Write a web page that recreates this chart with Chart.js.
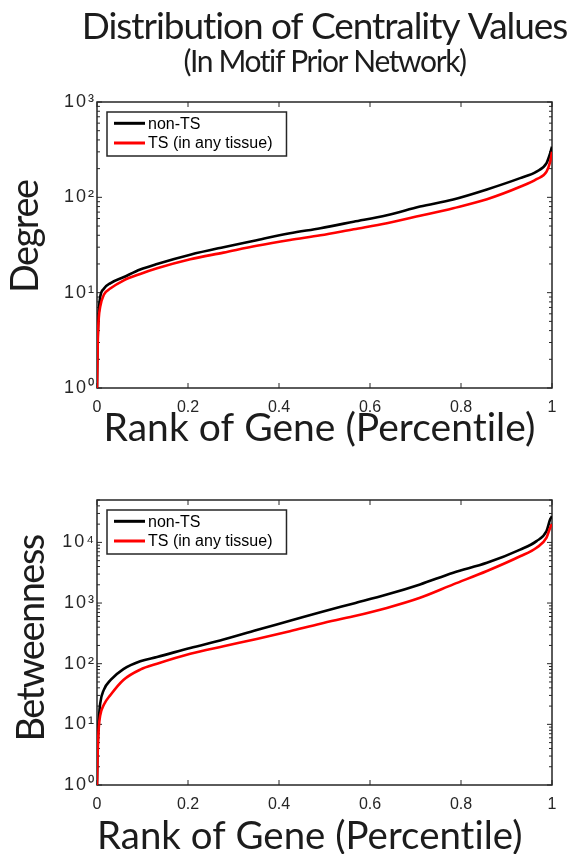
<!DOCTYPE html>
<html><head><meta charset="utf-8">
<script src="https://cdn.jsdelivr.net/npm/chart.js@4.4.1/dist/chart.umd.min.js"></script>
<style>
html,body{margin:0;padding:0;background:#fff;width:571px;height:854px;overflow:hidden;}
#wrapA{position:absolute;left:0;top:0;width:571px;height:452px;}
#wrapB{position:absolute;left:0;top:452px;width:571px;height:408px;}
canvas{display:block;}
</style></head><body>
<div id="wrapA"><canvas id="cA" width="571" height="452"></canvas></div>
<div id="wrapB"><canvas id="cB" width="571" height="408"></canvas></div>
<script>
// ---- data ----
const rankPct      = [0, 0.001, 0.002, 0.004, 0.007, 0.015, 0.03, 0.058, 0.095, 0.132, 0.205, 0.278, 0.351, 0.424, 0.491, 0.564, 0.637, 0.71, 0.783, 0.857, 0.93, 0.966, 0.988, 0.996, 1];
const degreeNonTS  = [1, 2.5, 4, 6.5, 9, 11, 12.6, 14.5, 17.5, 20, 25, 30, 35.5, 42, 47.5, 55.5, 65, 80, 95, 121, 159, 186, 229, 290, 340];
const degreeTS     = [1, 2, 3.5, 5.5, 7.1, 9.5, 11.1, 13.4, 15.7, 18, 22.4, 26.3, 31, 35.7, 40, 46.3, 53.5, 64, 77, 95.5, 129, 155, 186, 237, 300];
const betweenNonTS = [1, 3, 6, 12, 22, 37, 54, 81.6, 110, 129, 182, 250, 360, 510, 706, 985, 1380, 2030, 3170, 4600, 7600, 10500, 15400, 24000, 27000];
const betweenTS    = [1, 2.5, 4.5, 9, 14, 21, 30.8, 54, 80, 100, 146, 194, 256, 343, 457, 604, 830, 1220, 2030, 3370, 5900, 8150, 12000, 17500, 20000];

const seriesLabels = ['non-TS', 'TS (in any tissue)'];
const seriesColors = ['#000000', '#ff0000'];

const xTickValues = [0, 0.2, 0.4, 0.6, 0.8, 1];
const xTickLabels = ['0', '0.2', '0.4', '0.6', '0.8', '1'];
const degreeTickValues  = [1, 10, 100, 1000];
const degreeTickLabels  = ['10⁰', '10¹', '10²', '10³'];
const betweenTickValues = [1, 10, 100, 1000, 10000];
const betweenTickLabels = ['10⁰', '10¹', '10²', '10³', '10⁴'];

const chartTitle    = 'Distribution of Centrality Values';
const chartSubtitle = '(In Motif Prior Network)';
const xAxisTitle    = 'Rank of Gene (Percentile)';
const yTitleDegree  = 'Degree';
const yTitleBetween = 'Betweenness';

// ---- plugins ----
const axisBox = {
  id: 'axisBox',
  beforeDatasetsDraw(chart, args, o) {
    const {ctx, chartArea: a} = chart;
    const x = chart.scales.x, y = chart.scales.y;
    ctx.save();
    ctx.strokeStyle = o.color;
    ctx.lineWidth = o.tickWidth;
    ctx.beginPath();
    x.ticks.forEach(t => {
      const px = x.getPixelForValue(t.value);
      ctx.moveTo(px, a.bottom); ctx.lineTo(px, a.bottom - o.major);
      ctx.moveTo(px, a.top); ctx.lineTo(px, a.top + o.major);
    });
    const lo = Math.floor(Math.log10(y.min)), hi = Math.ceil(Math.log10(y.max));
    for (let e = lo; e <= hi; e++) {
      for (let m = 1; m <= 9; m++) {
        const v = m * Math.pow(10, e);
        if (v < y.min || v > y.max) continue;
        const len = m === 1 ? o.major : o.minor;
        const py = y.getPixelForValue(v);
        ctx.moveTo(a.left, py); ctx.lineTo(a.left + len, py);
        ctx.moveTo(a.right, py); ctx.lineTo(a.right - len, py);
      }
    }
    ctx.stroke();
    ctx.lineWidth = o.boxWidth;
    ctx.strokeRect(a.left, a.top, a.right - a.left, a.bottom - a.top);
    ctx.restore();
  }
};

const boxLegend = {
  id: 'boxLegend',
  afterDatasetsDraw(chart, args, o) {
    const {ctx, chartArea: a} = chart;
    const ds = chart.data.datasets;
    ctx.save();
    ctx.font = o.font;
    const textW = Math.max(...ds.map(d => ctx.measureText(d.label).width));
    const x0 = a.left + o.offsetX, y0 = a.top + o.offsetY;
    const w = o.textX + textW + o.padRight, h = o.height;
    ctx.fillStyle = '#ffffff';
    ctx.fillRect(x0, y0, w, h);
    ctx.strokeStyle = o.borderColor; ctx.lineWidth = o.borderWidth;
    ctx.strokeRect(x0, y0, w, h);
    ds.forEach((d, i) => {
      const cy = y0 + o.firstRow + i * o.rowGap;
      ctx.strokeStyle = d.borderColor; ctx.lineWidth = o.lineWidth;
      ctx.beginPath(); ctx.moveTo(x0 + o.lineX0, cy); ctx.lineTo(x0 + o.lineX1, cy); ctx.stroke();
      ctx.fillStyle = o.textColor; ctx.textBaseline = 'middle'; ctx.textAlign = 'left';
      ctx.fillText(d.label, x0 + o.textX, cy + o.textDy);
    });
    ctx.restore();
  }
};

// letter spacing tweaks for the big titles (as in the reference);
// the title is centred over the axes but may be wider than them (no squeezing)
const tightText = {
  id: 'tightText',
  afterLayout(chart, args, o) {
    const ctx = chart.ctx;
    const wrap = (obj, fn, spacing) => {
      if (!obj || obj['__wrapped_' + fn]) return;
      const orig = obj[fn];
      obj[fn] = function (...a) {
        ctx.save();
        try { ctx.letterSpacing = spacing; } catch (e) {}
        const r = orig.apply(this, a);
        ctx.restore();
        return r;
      };
      obj['__wrapped_' + fn] = true;
    };
    Object.keys(chart.scales).forEach(id => {
      const s = chart.scales[id];
      if (o.axis && o.axis[id] !== undefined) wrap(s, 'drawTitle', o.axis[id]);
      if (o.labels && o.labels[id] !== undefined) wrap(s, 'drawLabels', o.labels[id]);
    });
    (chart.boxes || []).forEach(b => {
      if (b && b.options && typeof b.options.text === 'string' && typeof b.draw === 'function') {
        wrap(b, 'draw', b.options.text === chartTitle ? o.title : o.subtitle);
        if (typeof b._drawArgs === 'function' && !b.__wideArgs) {
          const origArgs = b._drawArgs;
          b._drawArgs = function (off) {
            const r = origArgs.call(this, off);
            r.maxWidth = o.maxWidth;
            return r;
          };
          b.__wideArgs = true;
        }
      }
    });
  }
};

const axisColor = '#262626';
const textColor = '#1c1c1c';
const TITLE_FONT = 'Lato';
const TICK_FONT = '"Liberation Sans", Arial, sans-serif';

function lineData(yVals) { return rankPct.map((r, i) => ({x: r, y: yVals[i]})); }

function build(canvasId, cfg) {
  return new Chart(document.getElementById(canvasId), {
    type: 'line',
    data: {
      datasets: [
        {label: seriesLabels[0], data: lineData(cfg.nonTS), borderColor: seriesColors[0], backgroundColor: seriesColors[0], order: 2},
        {label: seriesLabels[1], data: lineData(cfg.ts), borderColor: seriesColors[1], backgroundColor: seriesColors[1], order: 1}
      ]
    },
    options: {
      responsive: false,
      animation: false,
      devicePixelRatio: 1,
      events: [],
      elements: {
        point: {radius: 0, hoverRadius: 0},
        line: {borderWidth: 2.6, cubicInterpolationMode: 'monotone', fill: false, borderCapStyle: 'butt'}
      },
      layout: {padding: cfg.padding},
      plugins: {
        legend: {display: false},
        tooltip: {enabled: false},
        title: cfg.title,
        subtitle: cfg.subtitle,
        axisBox: {color: axisColor, tickWidth: 1, boxWidth: 1.5, major: 5, minor: 3},
        boxLegend: {font: '16px ' + TICK_FONT, offsetX: 10, offsetY: 10, height: 44, textX: 41, padRight: 14,
                    firstRow: 11.3, rowGap: 19.7, lineX0: 7, lineX1: 38, lineWidth: 3, textDy: 1,
                    borderColor: axisColor, borderWidth: 1.5, textColor: '#000000'},
        tightText: {title: '-1.05px', subtitle: '-1.4px', maxWidth: 571,
                    axis: {x: '0.02px', y: '-1.5px'}, labels: {y: '2px'}}
      },
      scales: {
        x: {
          type: 'linear', min: 0, max: 1,
          grid: {display: false, drawTicks: false},
          border: {display: false},
          afterBuildTicks: s => { s.ticks = xTickValues.map(v => ({value: v})); },
          afterFit: s => { s.height = cfg.xHeight; },
          ticks: {callback: (v, i) => xTickLabels[i], font: {family: TICK_FONT, size: 16}, color: axisColor,
                  padding: 10, maxRotation: 0, autoSkip: false},
          title: {display: true, text: cfg.xTitle, color: textColor,
                  font: {family: TITLE_FONT, size: 39, lineHeight: 1.2}, padding: {top: 0, bottom: 0}}
        },
        y: {
          type: 'logarithmic', min: 1, max: cfg.yMax,
          grid: {display: false, drawTicks: false},
          border: {display: false},
          afterBuildTicks: s => { s.ticks = cfg.yTicks.map(v => ({value: v})); },
          afterFit: s => { s.width = 97; },
          ticks: {callback: (v, i) => cfg.yLabels[i], font: {family: TICK_FONT, size: 18}, color: axisColor,
                  padding: 1, autoSkip: false},
          title: {display: true, text: cfg.yTitle, color: textColor,
                  font: {family: TITLE_FONT, size: 38, lineHeight: 1.2}, padding: {top: cfg.yTitlePad, bottom: 0}}
        }
      }
    },
    plugins: [axisBox, boxLegend, tightText]
  });
}

build('cA', {
  nonTS: degreeNonTS, ts: degreeTS,
  yMax: 1000, yTicks: degreeTickValues, yLabels: degreeTickLabels,
  yTitle: '  ' + yTitleDegree, yTitlePad: 2.5,
  xTitle: xAxisTitle + ' ', xHeight: 64,
  padding: {left: 0, right: 19, top: 0, bottom: 0},
  title: {display: true, text: chartTitle, fullSize: false, color: textColor,
          font: {family: TITLE_FONT, size: 37, lineHeight: 1.0, weight: 'normal'}, padding: {top: 9, bottom: 0}},
  subtitle: {display: true, text: chartSubtitle, fullSize: false, color: textColor,
          font: {family: TITLE_FONT, size: 30, lineHeight: 1.0, weight: 'normal'}, padding: {top: 1, bottom: 25}}
});

build('cB', {
  nonTS: betweenNonTS, ts: betweenTS,
  yMax: 50000, yTicks: betweenTickValues, yLabels: betweenTickLabels,
  yTitle: ' ' + yTitleBetween, yTitlePad: 9,
  xTitle: xAxisTitle + '   ', xHeight: 75,
  padding: {left: 0, right: 19, top: 48, bottom: 0},
  title: {display: false},
  subtitle: {display: false}
});
</script>
</body></html>
